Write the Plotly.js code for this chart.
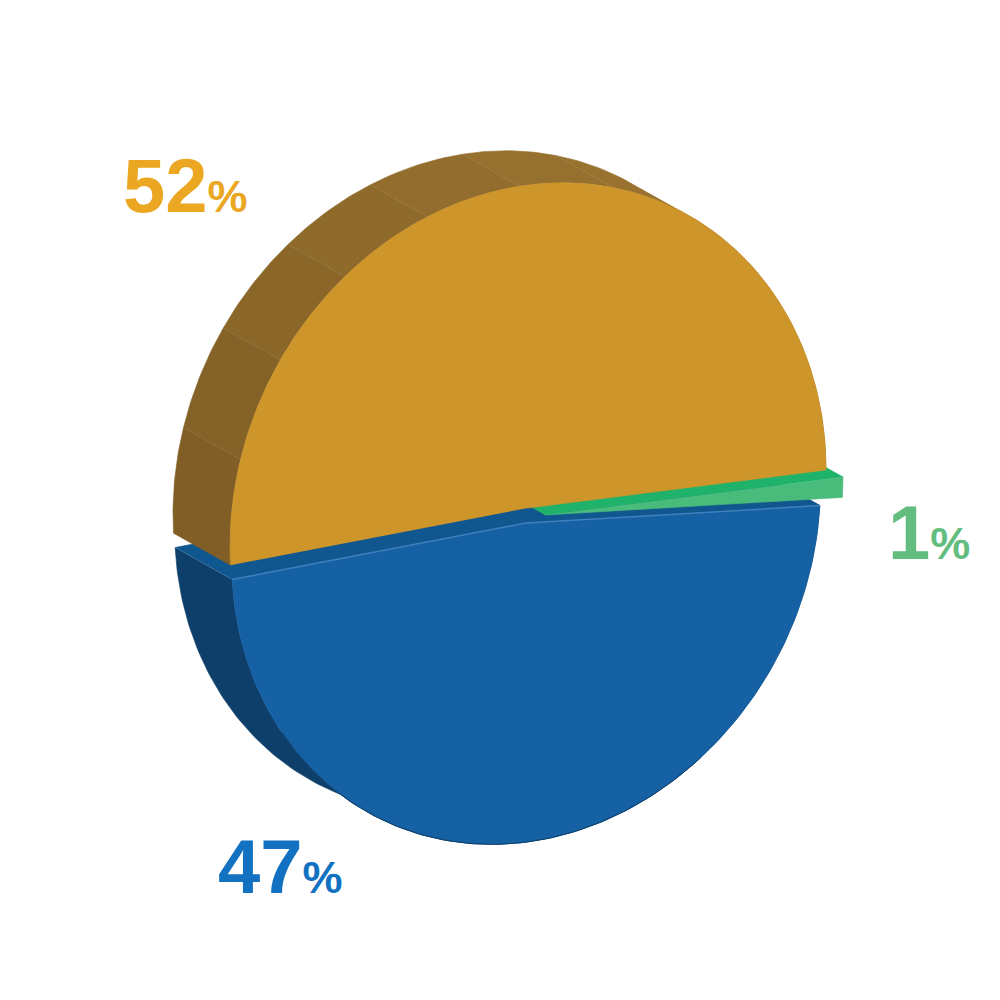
<!DOCTYPE html>
<html>
<head>
<meta charset="utf-8">
<script src="https://cdn.plot.ly/plotly-3.0.1.min.js"></script>
<style>
  html, body { margin: 0; padding: 0; background: #fff; }
  #chart { width: 1000px; height: 1000px; }
</style>
</head>
<body>
<div id="chart"></div>
<script>
// shares, going counter-clockwise from the gold slice's right edge
const sliceNames = ['gold', 'blue', 'green']
const sliceValues = [52, 47, 1]
const sliceLabels = ['52', '47', '1']

const faceColors = ['#ce952a', '#1661a3', '#49bc7b']
const wallColors = ['#876427', '#10568f', '#1fb26b']
const labelColors = ['#eba722', '#1272c1', '#63bd7f']
const goldRimShades = ['#9c7530', '#9c7530', '#9b7430', '#99722f', '#96702e', '#926d2d', '#8e6a2b', '#8a6629', '#856227', '#805e25']
const blueRimColor = '#0e3f6b'

// slice centres after the explosion, radius scale, ellipse vectors and extrusion depth
const centers = [[528, 508], [526, 523], [545, 515]]
const scales = [1, 0.988, 1]
const labelPos = [[122, 229], [217, 910], [887, 576]]
const u = [298, -38]
const v = [0, -323]
const depth = [-57, -32]
const lean = 1.9 // drawing is not a true projection, the gold/blue cut sits a bit early

function warp(deg) {
  return deg - lean * (1 - Math.cos(deg * Math.PI / 180))
}

function point(i, deg, off) {
  const t = warp(deg) * Math.PI / 180
  const o = off || [0, 0]
  const s = scales[i]
  return [
    centers[i][0] + s * (u[0] * Math.cos(t) + v[0] * Math.sin(t)) + o[0],
    centers[i][1] + s * (u[1] * Math.cos(t) + v[1] * Math.sin(t)) + o[1],
  ]
}

function arc(i, from, to, off) {
  const pts = []
  const n = Math.max(2, Math.ceil(Math.abs(to - from)))
  for (let k = 0; k <= n; k++) {
    pts.push(point(i, from + (to - from) * k / n, off))
  }
  return pts
}

function poly(pts, color, name) {
  return {
    x: pts.map(p => p[0]),
    y: pts.map(p => p[1]),
    name: name,
    type: 'scatter',
    mode: 'lines',
    fill: 'toself',
    fillcolor: color,
    line: { color: color, width: 0.6 },
    hoverinfo: 'skip',
    showlegend: false,
  }
}

function edge(pts, color, width) {
  return {
    x: pts.map(p => p[0]),
    y: pts.map(p => p[1]),
    type: 'scatter',
    mode: 'lines',
    line: { color: color, width: width },
    hoverinfo: 'skip',
    showlegend: false,
  }
}

// start and end angle of every slice comes from its share
const total = sliceValues.reduce((a, b) => a + b, 0)
let running = 0
const ranges = sliceValues.map(val => {
  const r = [running, running + val / total * 360]
  running = r[1]
  return r
})

const [gold, blue, green] = ranges
const GOLD = 0, BLUE = 1, GREEN = 2
const rearCenter = i => [centers[i][0] + depth[0], centers[i][1] + depth[1]]

let data = []

// blue: rim, cut wall, face, edges
data.push(poly(arc(BLUE, blue[0], blue[1]).concat(arc(BLUE, blue[1], blue[0], depth)), blueRimColor, 'blue rim'))
data.push(poly([
  point(BLUE, blue[0]), centers[BLUE], point(BLUE, blue[1]),
  point(BLUE, blue[1], depth), rearCenter(BLUE), point(BLUE, blue[0], depth),
], wallColors[BLUE], 'blue cut'))
data.push(poly([centers[BLUE]].concat(arc(BLUE, blue[0], blue[1])), faceColors[BLUE], 'blue'))
data.push(edge(arc(BLUE, blue[0] + 30, blue[0] + 120), blueRimColor, 1))
data.push(edge([point(BLUE, blue[0]), centers[BLUE], point(BLUE, blue[1])], '#3f80bd', 1.5))

// green: cut wall then face
data.push(poly([
  centers[GREEN], point(GREEN, green[1]), point(GREEN, green[1], depth), rearCenter(GREEN),
], wallColors[GREEN], 'green cut'))
data.push(poly([centers[GREEN]].concat(arc(GREEN, green[0], green[1])), faceColors[GREEN], 'green'))

// gold: faceted rim, then face on top of everything
const step = (gold[1] - gold[0]) / goldRimShades.length
goldRimShades.forEach((shade, i) => {
  const a = gold[0] + step * i
  const b = a + step
  data.push(poly(arc(GOLD, a, b).concat(arc(GOLD, b, a, depth)), shade, 'gold rim'))
})
data.push(poly([centers[GOLD]].concat(arc(GOLD, gold[0], gold[1])), faceColors[GOLD], 'gold'))

const annotations = sliceLabels.map((label, i) => ({
  x: labelPos[i][0],
  y: labelPos[i][1],
  xref: 'x',
  yref: 'y',
  xanchor: 'left',
  yanchor: 'bottom',
  showarrow: false,
  align: 'left',
  borderpad: 0,
  text: `<b>${label}<span style="font-size:45px">%</span></b>`,
  font: { family: 'Liberation Sans, Arial, sans-serif', size: 76, color: labelColors[i] },
}))

const layout = {
  width: 1000,
  height: 1000,
  margin: { l: 0, r: 0, t: 0, b: 0 },
  paper_bgcolor: '#ffffff',
  plot_bgcolor: '#ffffff',
  showlegend: false,
  xaxis: { range: [0, 1000], visible: false, fixedrange: true },
  yaxis: { range: [1000, 0], visible: false, fixedrange: true },
  annotations: annotations,
}

Plotly.newPlot('chart', data, layout, { displayModeBar: false, responsive: false })
</script>
</body>
</html>
